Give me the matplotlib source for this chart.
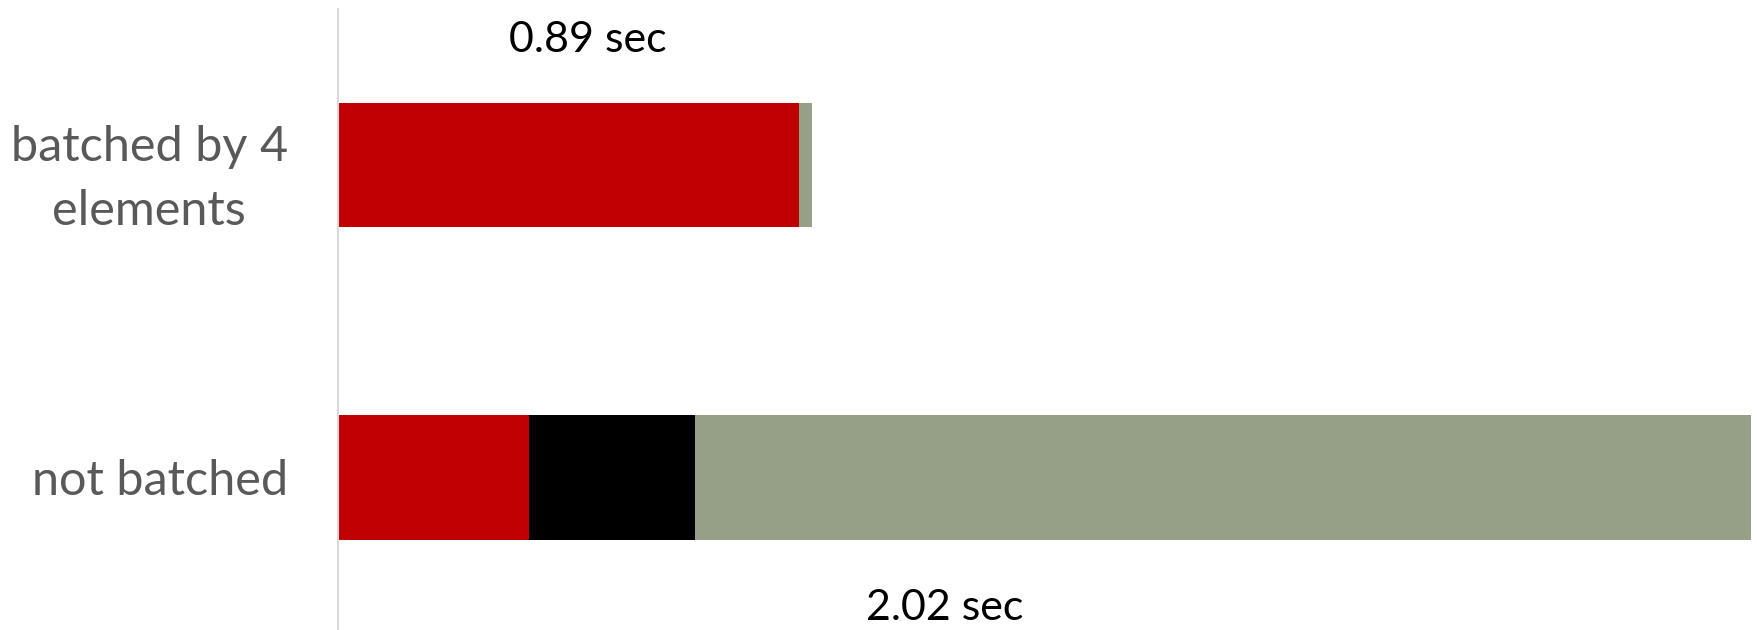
import matplotlib.pyplot as plt

# Timing breakdown per run (seconds), stacked left to right
categories = ["not batched", "batched by 4\nelements"]
seg_red = [0.55, 0.874]
seg_black = [0.20, 0.00]
seg_green = [1.27, 0.016]
colors = ["#C00000", "#000000", "#95A087"]

plt.rcParams["font.family"] = ["Lato", "DejaVu Sans"]

fig = plt.figure(figsize=(17.58, 6.3), dpi=100)
ax = fig.add_axes([338 / 1758, 0, 1 - 338 / 1758, 621 / 630])

y = range(len(categories))
left = [0.0] * len(categories)
for seg, c in zip([seg_red, seg_black, seg_green], colors):
    ax.barh(y, seg, left=left, height=0.4, color=c, linewidth=0)
    left = [l + s for l, s in zip(left, seg)]

# totals written above / below each bar
totals = left
ax.text(0.62, 1.40, f"{totals[1]:.2f} sec", ha="center", va="center", fontsize=31, color="black")
ax.text(1.05, -0.42, f"{totals[0]:.2f} sec", ha="center", va="center", fontsize=31, color="black")

ax.set_xlim(0.32, 2.028)
ax.set_ylim(-0.49, 1.5)
ax.set_xticks([])
ax.set_yticks(list(y))
ax.set_yticklabels(categories, fontsize=35, color="#595959", multialignment="center",
                   linespacing=1.55)
ax.tick_params(axis="y", length=0, pad=36)
for s in ["top", "right", "bottom"]:
    ax.spines[s].set_visible(False)
ax.spines["left"].set_color("#D9D9D9")
ax.spines["left"].set_linewidth(1.5)

fig.savefig("out.png", dpi=100)
